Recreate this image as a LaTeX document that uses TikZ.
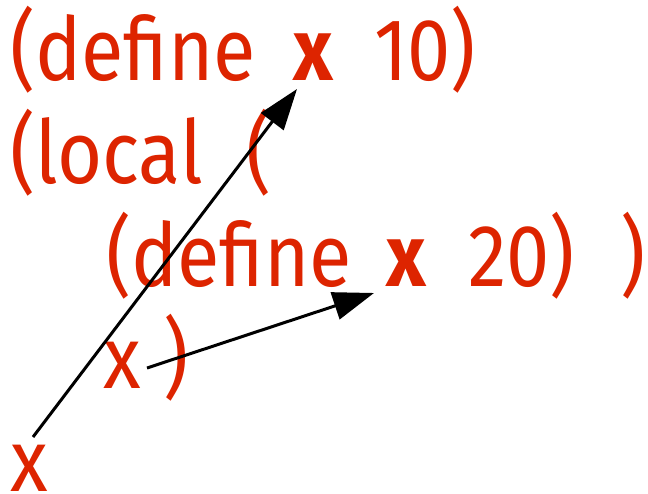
\documentclass[tikz,border=0pt]{standalone}
\usepackage{fontspec}
\setmainfont{Fira Sans}[FakeStretch=0.88]
\usetikzlibrary{arrows.meta}
\definecolor{codered}{RGB}{221,36,0}
\begin{document}
\begin{tikzpicture}[x=1pt,y=-1pt,
  tok/.style={anchor=base west,inner sep=0pt,outer sep=0pt,text=codered,font=\fontsize{88}{100}\selectfont},
  btok/.style={tok,font=\fontsize{88}{100}\selectfont\bfseries},
  ptr/.style={line width=3pt,-{Triangle[length=41pt,width=28pt]}}]
\useasboundingbox (0,0) rectangle (648,494);
% line 1
\node[tok] (l1a) at (10,81) {(define};
\node[btok] (l1x) at (293,81) {x};
\node[tok] (l1b) at (374,81) {10)};
% line 2
\node[tok] (l2a) at (10,184) {(local};
\node[tok] (l2b) at (246,184) {(};
% line 3
\node[tok] (l3a) at (106,287) {(define};
\node[btok] (l3x) at (386,287) {x};
\node[tok] (l3b) at (468,287) {20)};
\node[tok] (l3c) at (620,287) {)};
% line 4
\node[tok] (l4x) at (103,388) {x};
\node[tok] (l4p) at (163,388) {)};
% line 5
\node[tok] (l5x) at (10,491) {x};
% arrow ends
\coordinate (a1s) at (33,437);
\coordinate (a1e) at (297,89);
\coordinate (a2s) at (147,368);
\coordinate (a2e) at (374,293);
\draw[ptr] (a1s) -- (a1e);
\draw[ptr] (a2s) -- (a2e);
\end{tikzpicture}
\end{document}
